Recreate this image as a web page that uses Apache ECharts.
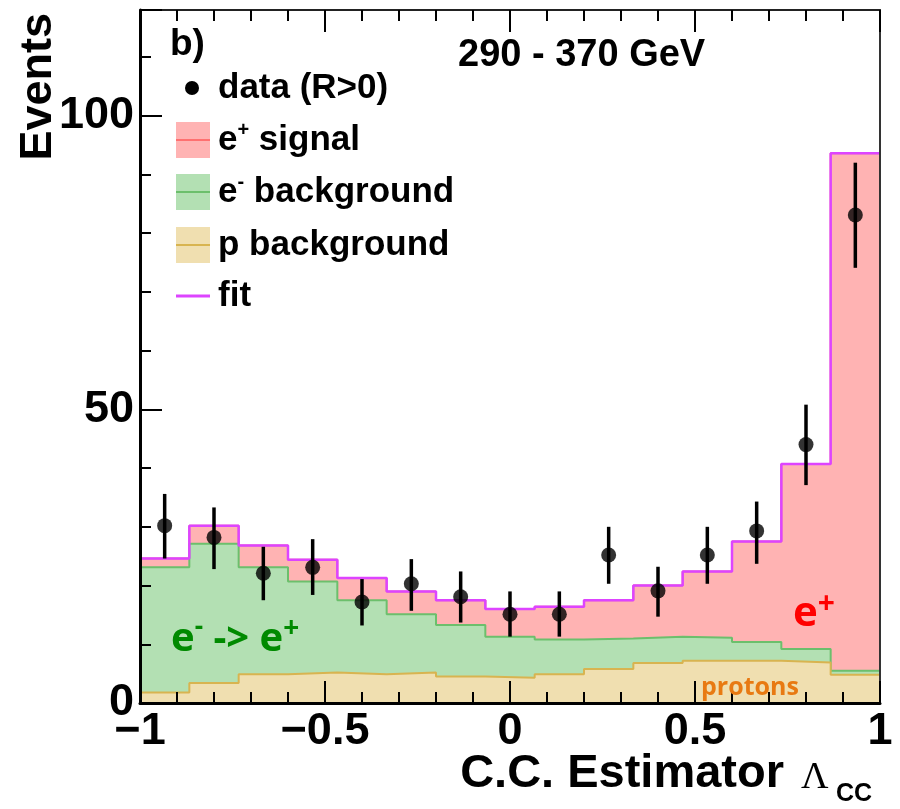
<!DOCTYPE html>
<html>
<head>
<meta charset="utf-8">
<script src="https://cdn.jsdelivr.net/npm/echarts@6/dist/echarts.min.js"></script>
<style>html,body{margin:0;padding:0;background:#fff;}#chart{width:900px;height:809px;}</style>
</head>
<body>
<div id="chart"></div>
<script>
// ---- Data ----
const xMin = -1, xMax = 1, nBins = 15;
const pBackground = [1.8, 3.4, 4.9, 5.2, 4.9, 5.2, 4.5, 4.3, 4.9, 5.8, 6.8, 7.2, 7.2, 6.9, 4.8];
const eBackground = [21.3, 23.7, 18.2, 15.5, 12.6, 9.9, 8.8, 7.0, 5.9, 5.2, 4.5, 3.9, 3.2, 2.3, 0.7];
const eSignal     = [1.5, 3.1, 3.7, 3.7, 3.8, 3.9, 4.2, 4.7, 5.6, 6.5, 8.7, 11.3, 17.1, 31.5, 88.1];
const fitTotal    = [24.6, 30.2, 26.8, 24.4, 21.3, 19.0, 17.5, 16.0, 16.4, 17.5, 20.0, 22.4, 27.5, 40.7, 93.6];
const dataValues  = [30.2, 28.2, 22.1, 23.1, 17.2, 20.3, 18.1, 15.1, 15.1, 25.2, 19.1, 25.2, 29.3, 44.0, 83.1];
const dataErrLow  = [24.6, 22.8, 17.5, 18.4, 13.2, 15.7, 13.7, 11.3, 11.3, 20.3, 14.7, 20.3, 23.7, 37.1, 74.1];
const dataErrHigh = [35.6, 33.3, 26.6, 27.9, 21.1, 24.5, 22.4, 19.0, 19.0, 30.0, 23.2, 30.0, 34.3, 50.8, 92.0];
const yTickLabels = [0, 50, 100];
const xTickLabels = [-1, -0.5, 0, 0.5, 1];

// ---- Derived bin structure and cumulative (stacked) heights ----
const edges = Array.from({length: nBins + 1}, (_, i) => xMin + i * (xMax - xMin) / nBins);
const centers = edges.slice(0, -1).map((x, i) => (x + edges[i + 1]) / 2);
const stackP = pBackground.slice();
const stackPE = pBackground.map((v, i) => v + eBackground[i]);
const stackAll = stackPE.map((v, i) => v + eSignal[i]);
function stepData(vals) {
  return edges.map((x, i) => [x, vals[Math.min(i, vals.length - 1)]]);
}

const SANS = 'Liberation Sans';
const ANN = 'Open Sans';

const chart = echarts.init(document.getElementById('chart'), null, {renderer: 'canvas'});

const tickLabelStyle = {fontFamily: SANS, fontWeight: 'bold', fontSize: 45, color: '#000'};

function histSeries(name, vals, lineColor, fillColor, z) {
  return {
    name: name, type: 'line', step: 'end', symbol: 'none', z: z,
    data: stepData(vals),
    lineStyle: {color: lineColor, width: 2},
    areaStyle: {color: fillColor, opacity: 1, origin: 'start'}
  };
}

const option = {
  animation: false,
  backgroundColor: '#fff',
  grid: {left: 140, right: 20, top: 10, bottom: 106, containLabel: false},
  xAxis: [{
    type: 'value', min: xMin, max: xMax, interval: 0.5, position: 'bottom', z: 10,
    axisLine: {show: true, onZero: false, lineStyle: {color: '#000', width: 3}},
    axisTick: {show: true, inside: true, length: 22, lineStyle: {color: '#000', width: 2}},
    minorTick: {show: true, splitNumber: 5, length: 11, lineStyle: {color: '#000', width: 2}},
    splitLine: {show: false},
    axisLabel: Object.assign({margin: 6, formatter: v => xTickLabels.indexOf(v) < 0 ? '' : (v < 0 ? '\u2212' + Math.abs(v) : String(v))}, tickLabelStyle)
  }, {
    type: 'value', min: xMin, max: xMax, interval: 0.5, position: 'top', z: 10,
    axisLine: {show: true, onZero: false, lineStyle: {color: '#222', width: 2}},
    axisTick: {show: true, inside: true, length: 22, lineStyle: {color: '#000', width: 2}},
    minorTick: {show: true, splitNumber: 5, length: 11, lineStyle: {color: '#000', width: 2}},
    splitLine: {show: false},
    axisLabel: {show: false}
  }],
  yAxis: [{
    type: 'value', min: 0, max: 118, interval: 50, position: 'left', z: 10,
    axisLine: {show: true, onZero: false, lineStyle: {color: '#000', width: 3}},
    axisTick: {show: true, inside: true, length: 22, lineStyle: {color: '#000', width: 2}},
    minorTick: {show: true, splitNumber: 5, length: 11, lineStyle: {color: '#000', width: 2}},
    splitLine: {show: false},
    axisLabel: Object.assign({margin: 6, showMaxLabel: false, formatter: v => yTickLabels.indexOf(v) < 0 ? '' : String(v)}, tickLabelStyle)
  }, {
    type: 'value', min: 0, max: 118, position: 'right', z: 10,
    axisLine: {show: true, onZero: false, lineStyle: {color: '#333', width: 2}},
    axisTick: {show: false}, axisLabel: {show: false}, splitLine: {show: false}
  }],
  series: [
    histSeries('e+ signal', stackAll, '#ff8080', '#ffb3b3', 2),
    histSeries('e- background', stackPE, '#6cbf6c', '#b3e0b3', 2.1),
    histSeries('p background', stackP, '#d8b450', '#f0dfb0', 2.2),
    {
      name: 'fit', type: 'line', step: 'end', symbol: 'none', z: 3,
      data: stepData(fitTotal),
      lineStyle: {color: '#dd44ff', width: 2.5}
    },
    {
      name: 'data errors', type: 'custom', z: 4,
      data: centers.map((c, i) => [c, dataErrLow[i], dataErrHigh[i]]),
      encode: {x: 0, y: [1, 2]},
      renderItem: function (params, api) {
        const p1 = api.coord([api.value(0), api.value(1)]);
        const p2 = api.coord([api.value(0), api.value(2)]);
        return {type: 'line', shape: {x1: p1[0], y1: p1[1], x2: p2[0], y2: p2[1]},
                style: {stroke: '#000', lineWidth: 3.5}};
      }
    },
    {
      name: 'data (R>0)', type: 'scatter', z: 5, symbol: 'circle', symbolSize: 15,
      data: centers.map((c, i) => [c, dataValues[i]]),
      itemStyle: {color: '#000'}
    }
  ],
  graphic: [
    // y-axis title
    {type: 'text', x: 39, y: 13, rotation: Math.PI / 2, z: 20,
     style: {text: 'Events', fontFamily: SANS, fontWeight: 'bold', fontSize: 45, fill: '#000', align: 'right', verticalAlign: 'middle'}},
    // x-axis title
    {type: 'text', x: 784, y: 774, z: 20,
     style: {text: 'C.C. Estimator', fontFamily: SANS, fontWeight: 'bold', fontSize: 47, fill: '#000', align: 'right', verticalAlign: 'middle'}},
    {type: 'text', x: 801, y: 778, z: 20,
     style: {text: '\u039B', fontFamily: 'Liberation Serif', fontSize: 38, fill: '#000', align: 'left', verticalAlign: 'middle'}},
    {type: 'text', x: 836, y: 794, z: 20,
     style: {text: 'CC', fontFamily: SANS, fontWeight: 'bold', fontSize: 25, fill: '#000', align: 'left', verticalAlign: 'middle'}},
    // panel label and energy range
    {type: 'text', x: 170, y: 45, z: 20,
     style: {text: 'b)', fontFamily: SANS, fontWeight: 'bold', fontSize: 37, fill: '#000', align: 'left', verticalAlign: 'middle'}},
    {type: 'text', x: 458, y: 56, z: 20,
     style: {text: '290 - 370 GeV', fontFamily: SANS, fontWeight: 'bold', fontSize: 38, fill: '#000', align: 'left', verticalAlign: 'middle'}},
    // legend
    {type: 'circle', z: 20, shape: {cx: 192, cy: 88, r: 7}, style: {fill: '#000'}},
    {type: 'text', x: 218, y: 88, z: 20,
     style: {text: 'data (R>0)', fontFamily: SANS, fontWeight: 'bold', fontSize: 35, fill: '#000', align: 'left', verticalAlign: 'middle'}},
    {type: 'rect', z: 20, shape: {x: 176, y: 122, width: 34, height: 36}, style: {fill: '#ffb3b3'}},
    {type: 'line', z: 21, shape: {x1: 176, y1: 140, x2: 210, y2: 140}, style: {stroke: '#ff7070', lineWidth: 2}},
    {type: 'text', x: 218, y: 140, z: 20,
     style: {text: '{n|e}{s|+}{n| signal}', align: 'left', verticalAlign: 'middle',
       rich: {n: {fontFamily: SANS, fontWeight: 'bold', fontSize: 35, fill: '#000', lineHeight: 40},
              s: {fontFamily: SANS, fontWeight: 'bold', fontSize: 20, fill: '#000', lineHeight: 30, verticalAlign: 'top'}}}},
    {type: 'rect', z: 20, shape: {x: 176, y: 174, width: 34, height: 36}, style: {fill: '#b3e0b3'}},
    {type: 'line', z: 21, shape: {x1: 176, y1: 192, x2: 210, y2: 192}, style: {stroke: '#6cbf6c', lineWidth: 2}},
    {type: 'text', x: 218, y: 192, z: 20,
     style: {text: '{n|e}{s|-}{n| background}', align: 'left', verticalAlign: 'middle',
       rich: {n: {fontFamily: SANS, fontWeight: 'bold', fontSize: 35, fill: '#000', lineHeight: 40},
              s: {fontFamily: SANS, fontWeight: 'bold', fontSize: 20, fill: '#000', lineHeight: 18, verticalAlign: 'top'}}}},
    {type: 'rect', z: 20, shape: {x: 176, y: 227, width: 34, height: 36}, style: {fill: '#f0dfb0'}},
    {type: 'line', z: 21, shape: {x1: 176, y1: 245, x2: 210, y2: 245}, style: {stroke: '#d8b450', lineWidth: 2}},
    {type: 'text', x: 218, y: 245, z: 20,
     style: {text: 'p background', fontFamily: SANS, fontWeight: 'bold', fontSize: 35, fill: '#000', align: 'left', verticalAlign: 'middle'}},
    {type: 'line', z: 21, shape: {x1: 176, y1: 296, x2: 210, y2: 296}, style: {stroke: '#dd44ff', lineWidth: 3}},
    {type: 'text', x: 218, y: 296, z: 20,
     style: {text: 'fit', fontFamily: SANS, fontWeight: 'bold', fontSize: 35, fill: '#000', align: 'left', verticalAlign: 'middle'}},
    // annotations
    {type: 'text', x: 171, y: 640, z: 20,
     style: {text: '{n|e}{s|-}{n| -> e}{p|+}', align: 'left', verticalAlign: 'middle',
       rich: {n: {fontFamily: ANN, fontWeight: 'bold', fontSize: 40, fill: '#008a00', lineHeight: 50},
              s: {fontFamily: ANN, fontWeight: 'bold', fontSize: 26, fill: '#008a00', lineHeight: 22, verticalAlign: 'top'},
              p: {fontFamily: ANN, fontWeight: 'bold', fontSize: 28, fill: '#008a00', lineHeight: 30, verticalAlign: 'top'}}}},
    {type: 'text', x: 793, y: 614, z: 20,
     style: {text: '{n|e}{p|+}', align: 'left', verticalAlign: 'middle',
       rich: {n: {fontFamily: ANN, fontWeight: 'bold', fontSize: 42, fill: '#ff0000', lineHeight: 50},
              p: {fontFamily: ANN, fontWeight: 'bold', fontSize: 30, fill: '#ff0000', lineHeight: 30, verticalAlign: 'top'}}}},
    {type: 'text', x: 701, y: 688, z: 20,
     style: {text: 'protons', fontFamily: ANN, fontWeight: 'bold', fontSize: 25, fill: '#e87a12', align: 'left', verticalAlign: 'middle'}}
  ]
};
chart.setOption(option);
</script>
</body>
</html>
